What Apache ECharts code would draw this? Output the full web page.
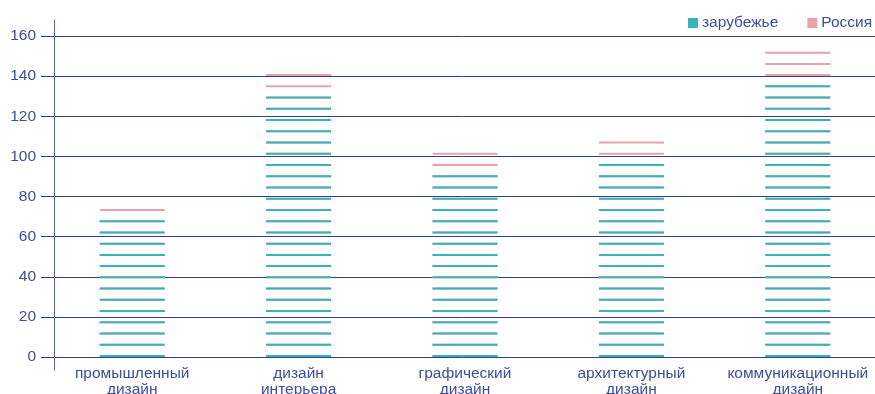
<!DOCTYPE html>
<html>
<head>
<meta charset="utf-8">
<script src="https://cdn.jsdelivr.net/npm/echarts@6/dist/echarts.min.js"></script>
<style>
	html, body { margin: 0; padding: 0; background: #fff; }
	#chart { width: 875px; height: 394px; }
</style>
</head>
<body>
<div id="chart"></div>
<script>
	// категории и значения
	var categories = ['промышленный\nдизайн', 'дизайн\nинтерьера', 'графический\nдизайн', 'архитектурный\nдизайн', 'коммуникационный\nдизайн'];
	var abroad = [69, 130, 91, 97, 136];
	var russia = [5, 12, 11, 11, 17];
	var yTicks = [0, 20, 40, 60, 80, 100, 120, 140, 160];

	// Россия рисуется под зарубежьем, поэтому её столбик - сумма
	var total = abroad.map(function (v, i) { return v + russia[i]; });

	var axisColor = '#2f4195';
	var textColor = '#3d4d9e';

	var lineBar = {
		type: 'pictorialBar',
		symbol: 'rect',
		symbolSize: [65, 2],
		symbolRepeat: 29,
		symbolBoundingData: 157.8,
		symbolClip: true,
		barGap: '-100%'
	};

	var chart = echarts.init(document.getElementById('chart'));
	chart.setOption({
		animation: false,
		textStyle: { fontFamily: 'Liberation Sans, Arial, sans-serif' },
		legend: {
			data: ['зарубежье', 'Россия'],
			orient: 'horizontal',
			left: 683,
			top: 10,
			width: 400,
			itemWidth: 10,
			itemHeight: 10,
			itemGap: 29,
			icon: 'rect',
			textStyle: { color: textColor, fontSize: 15.5, padding: [0, 0, 0, -1] }
		},
		grid: [
			{ left: 49, right: -6, top: 36, bottom: 37, outerBoundsMode: 'none' },
			{ left: 54, right: 0, top: 20, bottom: 24, outerBoundsMode: 'none' }
		],
		xAxis: [
			{
				type: 'category',
				data: categories,
				axisLine: { show: false },
				axisTick: { show: false },
				axisLabel: { color: textColor, fontSize: 15.5, lineHeight: 16, margin: 9, interval: 0 }
			},
			{ type: 'category', gridIndex: 1, show: false }
		],
		yAxis: [
			{
				type: 'value',
				min: yTicks[0],
				max: yTicks[yTicks.length - 1],
				interval: 20,
				axisLine: { show: false },
				axisTick: { show: true, length: 8, lineStyle: { color: axisColor } },
				axisLabel: { color: textColor, fontSize: 15.5, margin: 13 },
				splitLine: { lineStyle: { color: axisColor, width: 1 } }
			},
			{
				type: 'value',
				gridIndex: 1,
				axisLine: { show: true, lineStyle: { color: '#5563ad' } },
				axisTick: { show: false },
				axisLabel: { show: false },
				splitLine: { show: false }
			}
		],
		series: [
			Object.assign({}, lineBar, {
				name: 'Россия',
				z: 1,
				itemStyle: { color: '#eba1ac' },
				data: total
			}),
			Object.assign({}, lineBar, {
				name: 'зарубежье',
				z: 2,
				itemStyle: { color: '#38b4b7' },
				data: abroad
			})
		]
	});
</script>
</body>
</html>
